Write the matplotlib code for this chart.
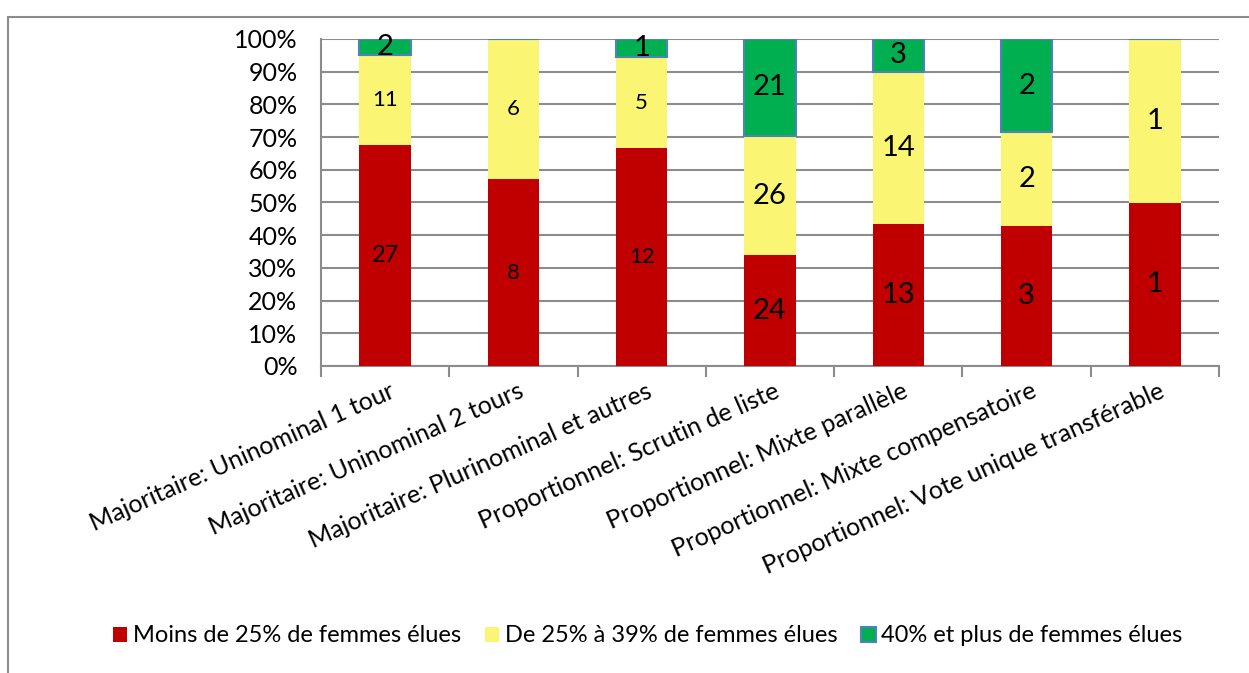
"""Stacked 100% bar chart: women elected by electoral system."""
import matplotlib
matplotlib.use("Agg")
import matplotlib.pyplot as plt
from matplotlib.patches import Rectangle
import numpy as np

plt.rcParams['font.family'] = ['Lato', 'DejaVu Sans']

categories = [
    "Majoritaire: Uninominal 1 tour",
    "Majoritaire: Uninominal 2 tours",
    "Majoritaire: Plurinominal et autres",
    "Proportionnel: Scrutin de liste",
    "Proportionnel: Mixte parallèle",
    "Proportionnel: Mixte compensatoire",
    "Proportionnel: Vote unique transférable",
]
series_names = [
    "Moins de 25% de femmes élues",
    "De 25% à 39% de femmes élues",
    "40% et plus de femmes élues",
]
moins_25 = [27, 8, 12, 24, 13, 3, 1]
de_25_39 = [11, 6, 5, 26, 14, 2, 1]
plus_40 = [2, 0, 1, 21, 3, 2, 0]
y_ticks = [0, 10, 20, 30, 40, 50, 60, 70, 80, 90, 100]

colors = ["#C00000", "#FAF573", "#00B050"]
edges = ["none", "none", "#4F81BD"]
# label sizes per series/category (smaller for the first three categories)
label_sizes = [
    [17, 16, 16, 21, 21, 21, 21],
    [16, 16, 16, 21, 21, 21, 21],
    [21, 16, 21, 21, 21, 21, 21],
]

W, H = 1249, 673
fig = plt.figure(figsize=(W / 100, H / 100), dpi=100)
ax = fig.add_axes([321 / W, 1 - 366 / H, (1219 - 321) / W, (366 - 39) / H])

data = np.array([moins_25, de_25_39, plus_40], dtype=float)
totals = data.sum(axis=0)
pct = data / totals * 100
x = np.arange(len(categories))
bottom = np.zeros(len(categories))
for i, name in enumerate(series_names):
    bars = ax.bar(x, pct[i], 0.4, bottom=bottom, color=colors[i],
                  edgecolor=edges[i], linewidth=1.5 if i == 2 else 0,
                  label=name, zorder=3)
    for j, b in enumerate(bars):
        if data[i, j] > 0:
            ax.text(b.get_x() + b.get_width() / 2, bottom[j] + pct[i, j] / 2,
                    f"{int(data[i, j])}", ha='center', va='center',
                    fontsize=label_sizes[i][j], zorder=4)
    bottom += pct[i]

ax.set_xlim(-0.5, len(categories) - 0.5)
ax.set_ylim(0, 100)
ax.set_yticks(y_ticks)
ax.set_yticklabels([f"{v}%" for v in y_ticks], fontsize=18)
ax.tick_params(axis='y', length=0, pad=17)
ax.yaxis.grid(True, color="#8C8C8C", linewidth=1.5, zorder=0)

ax.set_xticks(np.arange(-0.5, len(categories)))
ax.set_xticklabels([])
ax.tick_params(axis='x', length=8, width=1.5, color="#8C8C8C", direction='out')
for j, cat in enumerate(categories):
    ax.text(j + 0.03, -4, cat, rotation=24, ha='right', va='top',
            rotation_mode='anchor', fontsize=18)

for side in ['top', 'right']:
    ax.spines[side].set_visible(False)
for side in ['left', 'bottom']:
    ax.spines[side].set_color("#8C8C8C")
    ax.spines[side].set_linewidth(1.5)

# outer chart border
fig.patches.append(Rectangle((8 / W, -0.1), 1.2, 1.1 - 17 / H,
                             transform=fig.transFigure, fill=False,
                             edgecolor="#8C8C8C", linewidth=1.5))

fig.legend(loc='center', bbox_to_anchor=(648 / W, 1 - 636 / H), ncol=3,
           frameon=False, fontsize=17, handlelength=0.6, handleheight=0.6,
           handletextpad=0.25, columnspacing=1.0)

fig.savefig("out.png", dpi=100)
